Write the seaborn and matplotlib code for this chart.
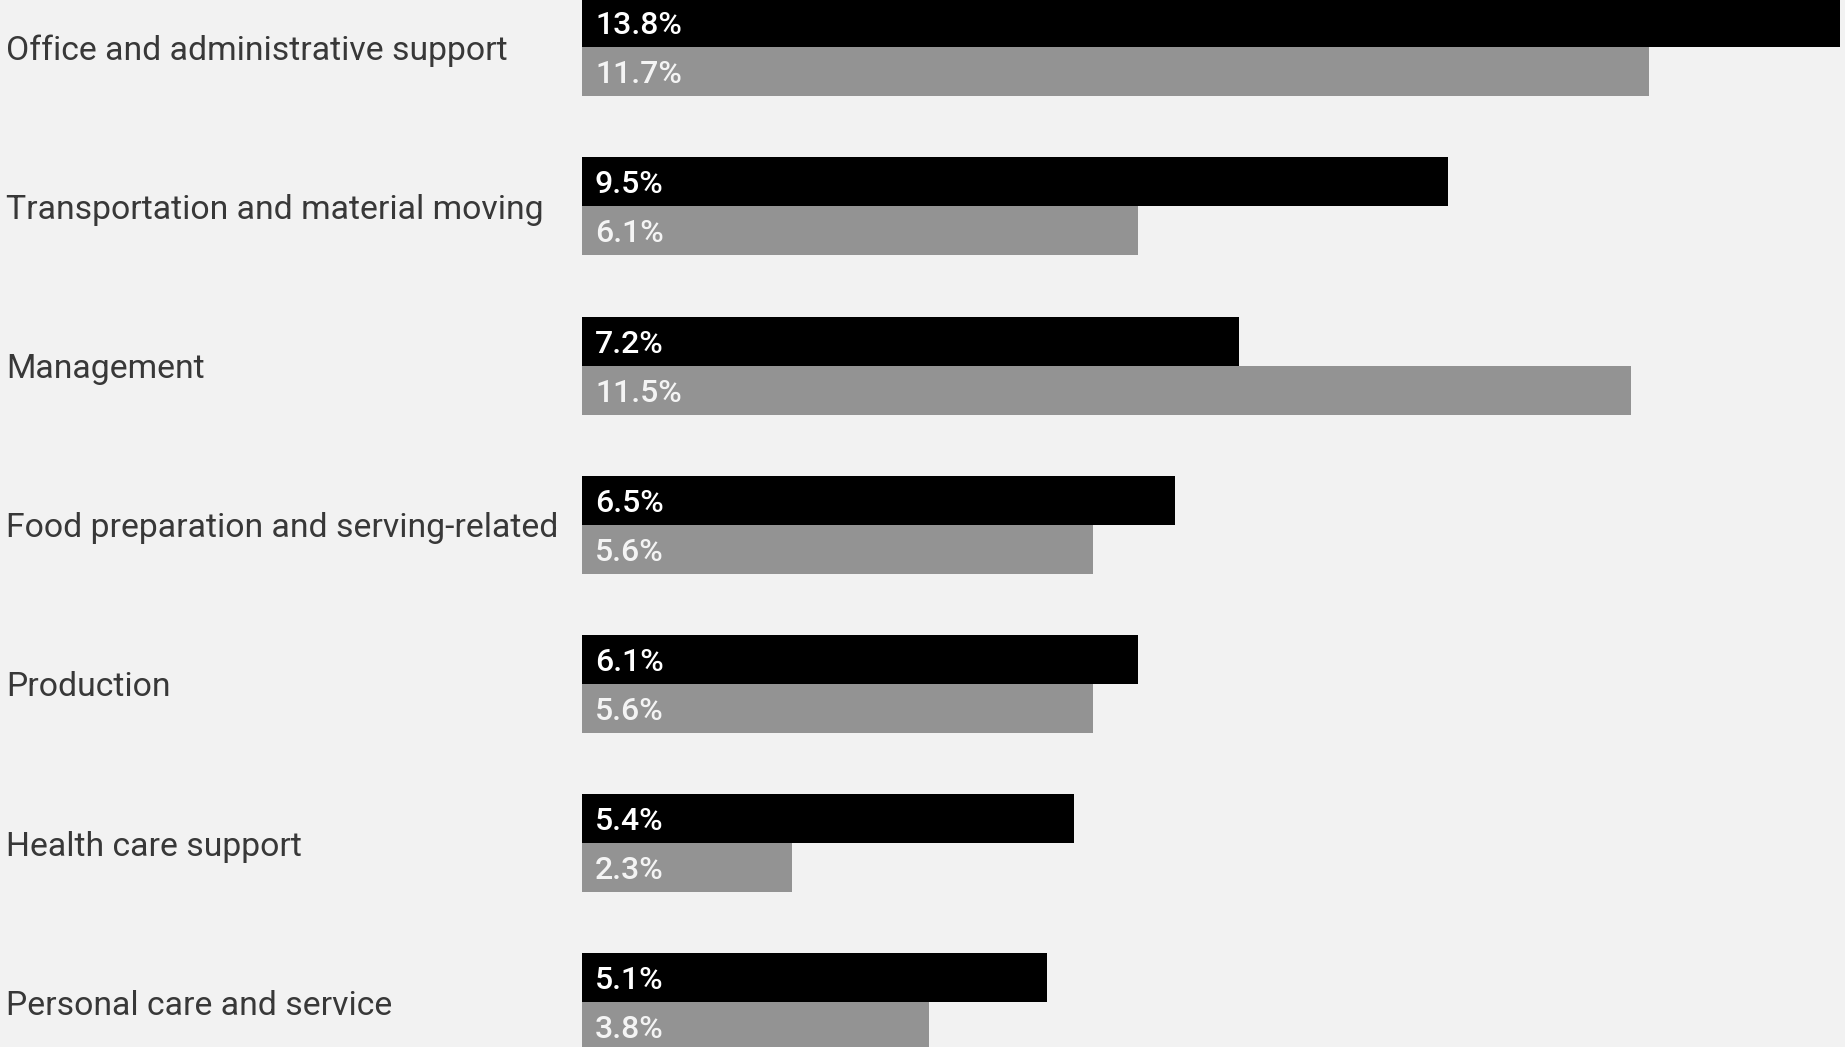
import matplotlib
matplotlib.use("Agg")
import matplotlib.pyplot as plt
import seaborn as sns
import pandas as pd

# Occupation groups and their two shares (percent)
occupations = [
    "Office and administrative support",
    "Transportation and material moving",
    "Management",
    "Food preparation and serving-related",
    "Production",
    "Health care support",
    "Personal care and service",
]
share_primary = [13.8, 9.5, 7.2, 6.5, 6.1, 5.4, 5.1]
share_comparison = [11.7, 6.1, 11.5, 5.6, 5.6, 2.3, 3.8]
series_names = ["Primary", "Comparison"]

df = pd.DataFrame({
    "occupation": occupations * 2,
    "share": share_primary + share_comparison,
    "series": [series_names[0]] * len(occupations) + [series_names[1]] * len(occupations),
})

BG = "#f2f2f2"
sns.set_theme(style="white")
plt.rcParams["font.family"] = ["Roboto", "DejaVu Sans"]

W, H, DPI = 1845, 1047, 100
fig = plt.figure(figsize=(W / DPI, H / DPI), dpi=DPI, facecolor=BG)
left = 582 / W
ax = fig.add_axes([left, 0, 1 - left, 1])
ax.set_facecolor(BG)

sns.barplot(
    data=df, y="occupation", x="share", hue="series",
    hue_order=series_names, order=occupations,
    palette={series_names[0]: "#000000", series_names[1]: "#939393"},
    orient="h", width=0.616, saturation=1, legend=False, ax=ax,
    linewidth=0,
)

ax.set_xlim(0, 13.85)
ax.set_ylim(6.2805, -0.2965)

for s in ax.spines.values():
    s.set_visible(False)
ax.set_xticks([])
ax.set_xlabel("")
ax.set_ylabel("")

# Category labels flush to the left edge of the figure
pad_pt = (582 - 6) * 72 / DPI
ax.tick_params(axis="y", length=0, pad=pad_pt, labelsize=24.3, labelcolor="#383838")
for lab in ax.get_yticklabels():
    lab.set_horizontalalignment("left")

# Value labels inside the start of each bar
label_colors = ["#ffffff", "#f4f4f4"]
for cont, vals, col in zip(ax.containers, [share_primary, share_comparison], label_colors):
    for bar, v in zip(cont, vals):
        ax.annotate(
            f"{v}%",
            xy=(bar.get_x(), bar.get_y() + bar.get_height() / 2),
            xytext=(13 * 72 / DPI, 0), textcoords="offset points",
            ha="left", va="center_baseline", color=col,
            fontsize=23, fontweight="medium",
        )

fig.savefig("out.png", dpi=DPI, facecolor=BG)
